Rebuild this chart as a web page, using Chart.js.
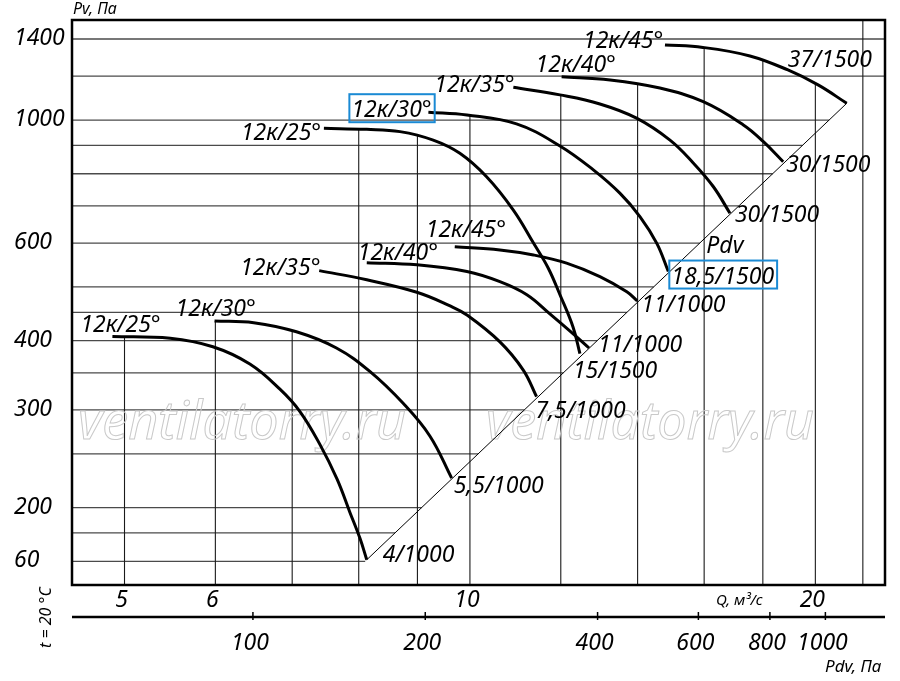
<!DOCTYPE html>
<html>
<head>
<meta charset="utf-8">
<title>12к</title>
<script src="https://cdn.jsdelivr.net/npm/chart.js@4/dist/chart.umd.min.js"></script>
<style>
  html, body { margin: 0; padding: 0; background: #fff; }
  canvas { display: block; }
</style>
</head>
<body>
<canvas id="myChart" width="900" height="681"></canvas>
<script>
// grid and tick values
const qGrid = [5, 6, 7, 8, 9, 10, 12, 14, 16, 18, 20, 22];
const pvGrid = [160, 180, 200, 250, 300, 350, 400, 450, 500, 600, 700, 800, 900, 1000, 1200, 1400];
const pvTicks = [160, 200, 300, 400, 600, 1000, 1400];
const pvTickLabels = ['60', '200', '300', '400', '600', '1000', '1400'];
const qTicks = [5, 6, 10, 20];
const qTickLabels = ['5', '6', '10', '20'];
const pdvTicks = [100, 200, 400, 600, 800, 1000];
const pdvTickLabels = ['100', '200', '400', '600', '800', '1000'];

// curve names (blade angle) and motor kW/rpm
const curveNames = ['12к/25°', '12к/30°', '12к/35°', '12к/40°', '12к/45°',
                    '12к/25°', '12к/30°', '12к/35°', '12к/40°', '12к/45°'];
const motorLabels = ['4/1000', '5,5/1000', '7,5/1000', '11/1000', '11/1000',
                     '15/1500', '18,5/1500', '30/1500', '30/1500', '37/1500'];

// Q, м³/с  and  Pv, Па
const q1000_25 = [4.88, 5.48, 5.97, 6.43, 6.83, 7.11, 7.40, 7.66, 7.86, 8.02, 8.13];
const pv1000_25 = [407, 404, 390, 363, 327, 298, 260, 225, 196, 176, 161];
const q1000_30 = [5.99, 6.48, 7.06, 7.65, 8.18, 8.75, 9.23, 9.64];
const pv1000_30 = [434, 431, 415, 388, 352, 308, 269, 226];
const q1000_35 = [7.39, 8.13, 8.99, 9.61, 9.94, 10.62, 11.13, 11.43];
const pv1000_35 = [535, 515, 489, 462, 445, 398, 354, 317];
const q1000_40 = [8.13, 8.99, 9.94, 10.62, 11.21, 11.74, 12.31, 12.70];
const pv1000_40 = [553, 548, 533, 511, 484, 447, 411, 388];
const q1000_45 = [9.70, 10.62, 11.36, 12.14, 12.98, 13.70, 13.99];
const pv1000_45 = [591, 583, 571, 552, 522, 490, 472];
const q1500_25 = [7.46, 8.13, 8.69, 9.29, 9.80, 10.34, 10.91, 11.36, 11.70, 11.98, 12.30, 12.47];
const pv1500_25 = [966, 962, 953, 920, 871, 790, 688, 600, 541, 484, 423, 379];
const q1500_30 = [9.20, 9.94, 10.98, 11.98, 12.81, 13.51, 14.07, 14.55, 14.89];
const pv1500_30 = [1033, 1021, 984, 898, 813, 738, 669, 599, 533];
const q1500_35 = [10.91, 11.98, 12.98, 13.97, 14.94, 15.66, 16.30, 16.85];
const pv1500_35 = [1146, 1110, 1069, 1008, 920, 836, 758, 679];
const q1500_40 = [12.02, 13.25, 14.64, 15.97, 17.31, 18.02, 18.75];
const pv1500_40 = [1197, 1181, 1142, 1079, 980, 914, 841];
const q1500_45 = [14.79, 15.96, 17.54, 18.93, 20.11, 21.30];
const pv1500_45 = [1366, 1352, 1305, 1231, 1157, 1072];

// Pdv line
const qDiag = [8.13, 21.30];
const pvDiag = [161, 1072];

const series = [
    [q1000_25, pv1000_25], [q1000_30, pv1000_30], [q1000_35, pv1000_35],
    [q1000_40, pv1000_40], [q1000_45, pv1000_45],
    [q1500_25, pv1500_25], [q1500_30, pv1500_30], [q1500_35, pv1500_35],
    [q1500_40, pv1500_40], [q1500_45, pv1500_45]
];

// label placement, px from curve start / end
const startOffsets = [[-32, -4], [-39, -5], [-79, 4], [-9, -3], [-29, -10],
                      [-83, 12], [-77, 5], [-79, 5], [-26, -5], [-82, 3]];
const endOffsets = [[16, 2], [2, 15], [-1, 21], [9, 4], [4, 11],
                    [-7, 24], [3, 12], [5, 9], [3, 10], [-59, -36]];
const boxedStart = [6];
const boxedEnd = [6];

const FONT = '"Noto Sans", "DejaVu Sans", sans-serif';
const LABEL_SIZE = 23;

function toPoints(qs, ps) {
    return qs.map((q, i) => ({ x: q, y: ps[i] }));
}

function text(ctx, s, x, y, size, align) {
    ctx.font = 'italic ' + size + 'px ' + FONT;
    ctx.textAlign = align || 'left';
    ctx.fillText(s, x, y);
}

function line(ctx, x1, y1, x2, y2) {
    ctx.beginPath();
    ctx.moveTo(x1, y1);
    ctx.lineTo(x2, y2);
    ctx.stroke();
}

function bez(p0, c1, c2, p1, t) {
    const u = 1 - t;
    return u * u * u * p0 + 3 * u * u * t * c1 + 3 * u * t * t * c2 + t * t * t * p1;
}

// y pixel of a drawn curve at pixel x (null if outside)
function curveYAt(pts, px) {
    for (let k = 0; k < pts.length - 1; k++) {
        const p = pts[k], q = pts[k + 1];
        if (px < p.x || px > q.x) continue;
        let lo = 0, hi = 1, t = 0.5;
        for (let it = 0; it < 40; it++) {
            t = (lo + hi) / 2;
            if (bez(p.x, p.cp2x, q.cp1x, q.x, t) < px) lo = t; else hi = t;
        }
        return bez(p.y, p.cp2y, q.cp1y, q.y, t);
    }
    return null;
}

function boxAround(ctx, s, x, y) {
    ctx.font = 'italic ' + LABEL_SIZE + 'px ' + FONT;
    const w = ctx.measureText(s).width;
    ctx.save();
    ctx.strokeStyle = '#1a8ad4';
    ctx.lineWidth = 2;
    ctx.strokeRect(x - 2, y - 23, w + 5, 28);
    ctx.restore();
}

const fanPlugin = {
    id: 'fanChart',
    beforeDatasetsDraw(chart) {
        const { ctx, chartArea: a, scales } = chart;
        const n = curveNames.length;
        const curves = [];
        for (let i = 0; i < n; i++) {
            const meta = chart.getDatasetMeta(i);
            meta.dataset.updateControlPoints(a, 'x');
            curves.push(meta.data);
        }
        const diag = chart.getDatasetMeta(n).data;
        const d0 = diag[0], d1 = diag[1];

        ctx.save();
        ctx.beginPath();
        ctx.rect(a.left, a.top, a.width, a.height);
        ctx.clip();

        // horizontal lines stop at the Pdv line
        ctx.strokeStyle = '#4a4a4a';
        ctx.lineWidth = 1.3;
        pvGrid.forEach(v => {
            const py = scales.y.getPixelForValue(v);
            let xEnd = a.right;
            if (py >= d1.y) xEnd = d0.x + (py - d0.y) * (d1.x - d0.x) / (d1.y - d0.y);
            line(ctx, a.left, py, xEnd, py);
        });

        // vertical lines stop at the highest curve
        ctx.strokeStyle = '#1a1a1a';
        ctx.lineWidth = 1.1;
        qGrid.forEach(v => {
            const px = scales.x.getPixelForValue(v);
            let top = null;
            curves.forEach(pts => {
                const yy = curveYAt(pts, px);
                if (yy !== null && (top === null || yy < top)) top = yy;
            });
            if (top === null) top = a.top;
            line(ctx, px, a.bottom, px, top);
        });

        // watermark
        ctx.font = 'italic 52px ' + FONT;
        ctx.textAlign = 'left';
        ctx.strokeStyle = '#c9c9c9';
        ctx.lineWidth = 1;
        ctx.strokeText('ventilatorry.ru', a.left + 6, a.bottom - 146);
        ctx.strokeText('ventilatorry.ru', a.left + 414, a.bottom - 146);
        ctx.restore();
    },
    afterDatasetsDraw(chart) {
        const { ctx, chartArea: a, scales } = chart;
        const n = curveNames.length;
        ctx.save();
        ctx.fillStyle = '#000';
        ctx.strokeStyle = '#000';
        ctx.textBaseline = 'alphabetic';

        // frame
        ctx.lineWidth = 2.5;
        ctx.strokeRect(a.left, a.top, a.width, a.height);

        // Pv ticks
        pvTicks.forEach((v, i) => {
            text(ctx, pvTickLabels[i], a.left - 58, scales.y.getPixelForValue(v) + 6, LABEL_SIZE);
        });
        // Q ticks
        qTicks.forEach((v, i) => {
            text(ctx, qTickLabels[i], scales.x.getPixelForValue(v) - 3, a.bottom + 22, LABEL_SIZE, 'center');
        });

        // Pdv axis
        const ay = a.bottom + 32;
        ctx.lineWidth = 2.5;
        line(ctx, a.left, ay, a.right, ay);
        ctx.lineWidth = 1.5;
        pdvTicks.forEach((v, i) => {
            const px = scales.pdv.getPixelForValue(v);
            line(ctx, px, ay - 5, px, ay + 3);
            text(ctx, pdvTickLabels[i], px - 3, ay + 33, LABEL_SIZE, 'center');
        });

        // axis titles
        text(ctx, 'Pv, Па', a.left + 1, a.top - 6, 16);
        text(ctx, 'Q, м³/с', a.left + 644, a.bottom + 20, 15);
        text(ctx, 'Pdv, Па', a.left + 753, a.bottom + 87, 17);
        ctx.save();
        ctx.translate(a.left - 21, a.bottom + 63);
        ctx.rotate(-Math.PI / 2);
        text(ctx, 't = 20 °C', 0, 0, 16);
        ctx.restore();

        // curve labels
        for (let i = 0; i < n; i++) {
            const pts = chart.getDatasetMeta(i).data;
            const s = pts[0], e = pts[pts.length - 1];
            const sx = s.x + startOffsets[i][0], sy = s.y + startOffsets[i][1];
            const ex = e.x + endOffsets[i][0], ey = e.y + endOffsets[i][1];
            text(ctx, curveNames[i], sx, sy, LABEL_SIZE);
            text(ctx, motorLabels[i], ex, ey, LABEL_SIZE);
            if (boxedStart.includes(i)) boxAround(ctx, curveNames[i], sx, sy);
            if (boxedEnd.includes(i)) boxAround(ctx, motorLabels[i], ex, ey);
            if (i === 6) text(ctx, 'Pdv', e.x + 38, e.y - 19, LABEL_SIZE);
        }
        ctx.restore();
    }
};

const datasets = series.map(([qs, ps]) => ({
    data: toPoints(qs, ps),
    borderColor: '#000',
    borderWidth: 3,
    pointRadius: 0,
    showLine: true,
    fill: false,
    tension: 0.4
}));
datasets.push({
    data: toPoints(qDiag, pvDiag),
    borderColor: '#000',
    borderWidth: 1,
    pointRadius: 0,
    showLine: true,
    fill: false,
    tension: 0
});

new Chart('myChart', {
    type: 'scatter',
    data: { datasets: datasets },
    options: {
        responsive: false,
        animation: false,
        events: [],
        layout: { padding: { left: 72, top: 20, right: 15, bottom: 96 } },
        scales: {
            x: { type: 'logarithmic', min: 4.5, max: 23, display: false },
            y: { type: 'logarithmic', min: 145, max: 1515, display: false },
            pdv: { type: 'logarithmic', axis: 'x', position: 'bottom', min: 48.3, max: 1271, display: false }
        },
        plugins: {
            legend: { display: false },
            tooltip: { enabled: false }
        }
    },
    plugins: [fanPlugin]
});
</script>
</body>
</html>
